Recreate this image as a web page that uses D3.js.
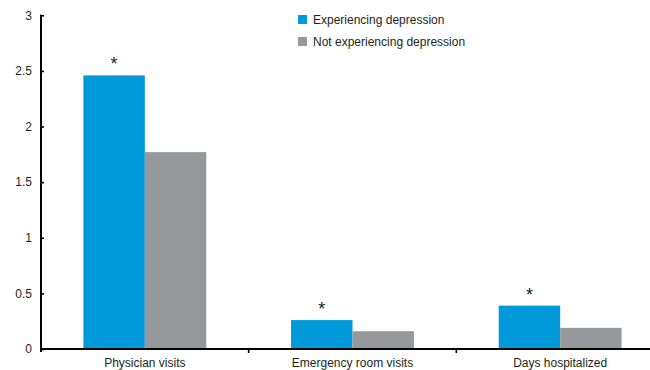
<!DOCTYPE html>
<html>
<head>
<meta charset="utf-8">
<script src="https://cdn.jsdelivr.net/npm/d3@7"></script>
<style>
  html, body { margin: 0; padding: 0; background: #fff; }
  svg { display: block; font-family: "Liberation Sans", Arial, Helvetica, sans-serif; }
</style>
</head>
<body>
<svg id="chart" width="650" height="370"></svg>
<script>
// Mean healthcare use by depression status
const categories = ["Physician visits", "Emergency room visits", "Days hospitalized"];
const seriesNames = ["Experiencing depression", "Not experiencing depression"];
const depressed = [2.46, 0.26, 0.39];
const notDepressed = [1.77, 0.16, 0.19];
const significant = [true, true, true];
const yTicks = [0, 0.5, 1, 1.5, 2, 2.5, 3];

const colors = ["#009ada", "#97989c"];
const textColor = "#231f20";

const svg = d3.select("#chart");
const x0 = 41, x1 = 664, yTop = 15.3, yBottom = 349;

const x = d3.scaleBand().domain(categories).range([x0, x1]).paddingInner(0).paddingOuter(0);
const inner = d3.scaleBand().domain(seriesNames).range([0, x.bandwidth()]).paddingInner(0).paddingOuter(0.69);
const y = d3.scaleLinear().domain([0, 3]).range([yBottom, yTop]);

const rows = categories.map((c, i) => ({ cat: c, vals: [depressed[i], notDepressed[i]], sig: significant[i] }));

// bars
const groups = svg.append("g").selectAll("g").data(rows).join("g")
  .attr("transform", d => `translate(${x(d.cat)},0)`);
groups.selectAll("rect")
  .data(d => d.vals.map((v, k) => ({ name: seriesNames[k], v, k })))
  .join("rect")
  .attr("x", d => inner(d.name))
  .attr("width", inner.bandwidth())
  .attr("y", d => y(d.v))
  .attr("height", d => y(0) - y(d.v))
  .attr("fill", d => colors[d.k]);

// significance markers
groups.filter(d => d.sig).append("text")
  .attr("x", inner(seriesNames[0]) + inner.bandwidth() / 2)
  .attr("y", d => y(d.vals[0]) - 5)
  .attr("text-anchor", "middle")
  .attr("font-size", 18)
  .attr("fill", textColor)
  .text("*");

// y axis
const yAxis = d3.axisLeft(y).tickValues(yTicks).tickSizeInner(-3).tickSizeOuter(0).tickPadding(9)
  .tickFormat(d3.format("~g"));
const gy = svg.append("g").attr("transform", `translate(${x0},0)`).call(yAxis);
gy.select(".domain").remove();
gy.selectAll(".tick line").attr("stroke", "#000").attr("stroke-width", 1.6);
gy.selectAll(".tick text").attr("font-size", 12).attr("fill", textColor)
  .attr("font-family", "Liberation Sans, Arial, sans-serif");
svg.append("line").attr("x1", x0).attr("x2", x0).attr("y1", yTop - 0.5).attr("y2", yBottom + 3)
  .attr("stroke", "#000").attr("stroke-width", 2);

// x axis
svg.append("line").attr("x1", x0).attr("x2", 650).attr("y1", yBottom).attr("y2", yBottom)
  .attr("stroke", "#000").attr("stroke-width", 2);
svg.append("g").selectAll("line").data(categories.slice(1)).join("line")
  .attr("x1", d => x(d)).attr("x2", d => x(d))
  .attr("y1", yBottom).attr("y2", yBottom + 4)
  .attr("stroke", "#000").attr("stroke-width", 1.6);
svg.append("g").selectAll("text").data(categories).join("text")
  .attr("x", d => x(d) + x.bandwidth() / 2)
  .attr("y", 367)
  .attr("text-anchor", "middle")
  .attr("font-size", 12)
  .attr("fill", textColor)
  .text(d => d);

// legend
const legend = svg.append("g").selectAll("g").data(seriesNames).join("g")
  .attr("transform", (d, i) => `translate(298,${15 + i * 22})`);
legend.append("rect").attr("width", 9).attr("height", 9).attr("fill", (d, i) => colors[i]);
legend.append("text").attr("x", 15).attr("y", 8.5)
  .attr("font-size", 12).attr("fill", textColor).text(d => d);
</script>
</body>
</html>
